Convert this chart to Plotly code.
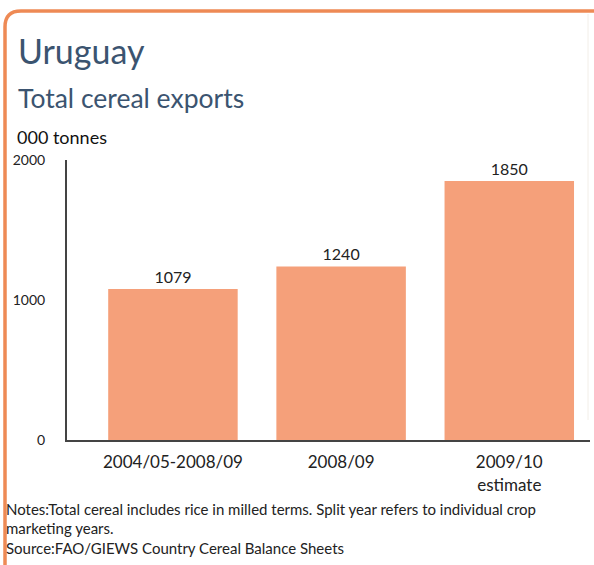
import plotly.graph_objects as go

categories = ["2004/05-2008/09", "2008/09", "2009/10<br>estimate"]
exports = [1079, 1240, 1850]
y_ticks = [0, 1000, 2000]

W, H = 594, 565
L, R, T, B = 67, 4, 160, 125
pw, ph = W - L - R, H - T - B


def px(x):
    return (x - L) / pw


def py(y):
    return (H - B - y) / ph


font = "Lato, 'Noto Sans', sans-serif"

fig = go.Figure(
    data=[
        go.Bar(
            x=[0, 1, 2],
            y=exports,
            width=0.77,
            marker_color="#F5A07A",
            marker_line_width=0,
            text=[str(v) for v in exports],
            textposition="outside",
            textfont=dict(size=16, color="#222222", family=font),
            cliponaxis=False,
        )
    ]
)

# orange frame with rounded top-left corner
r = 16
x0, y0 = 5, 11
path = (
    f"M {px(x0)} {py(H + 5)} L {px(x0)} {py(y0 + r)} "
    f"Q {px(x0)} {py(y0)} {px(x0 + r)} {py(y0)} L {px(W + 5)} {py(y0)}"
)
fig.add_shape(type="path", path=path, xref="paper", yref="paper",
              line=dict(color="#EE8A55", width=3.5))
fig.add_shape(type="line", xref="paper", yref="paper",
              x0=px(588), x1=px(588), y0=py(14), y1=py(420),
              line=dict(color="#F2EEE8", width=1))

annotations = [
    dict(text="Uruguay", x=px(16), y=py(50), size=34, color="#3B5470"),
    dict(text="Total cereal exports", x=px(16), y=py(98), size=26.5, color="#3B5470"),
    dict(text="000 tonnes", x=px(15), y=py(137), size=18, color="#111111"),
    dict(text="Notes:Total cereal includes rice in milled terms. Split year refers to individual crop",
         x=px(4), y=py(509), size=15, color="#222222"),
    dict(text="marketing years.", x=px(4), y=py(528), size=15, color="#222222"),
    dict(text="Source:FAO/GIEWS Country Cereal Balance Sheets", x=px(4), y=py(548), size=15, color="#222222"),
]
for a in annotations:
    fig.add_annotation(
        text=a["text"], x=a["x"], y=a["y"], xref="paper", yref="paper",
        xanchor="left", yanchor="middle", showarrow=False,
        font=dict(size=a["size"], color=a["color"], family=font),
    )

fig.update_layout(
    width=W,
    height=H,
    margin=dict(l=L, r=R, t=T, b=B),
    paper_bgcolor="white",
    plot_bgcolor="white",
    showlegend=False,
    font=dict(family=font, color="#222222"),
    xaxis=dict(
        range=[-0.63, 2.48],
        tickvals=[0, 1, 2],
        ticktext=categories,
        tickfont=dict(size=17),
        showgrid=False,
        showline=True,
        linecolor="#444444",
        linewidth=2,
        ticks="outside",
        ticklen=6,
        tickcolor="rgba(0,0,0,0)",
        zeroline=False,
    ),
    yaxis=dict(
        range=[0, 2000],
        tickvals=y_ticks,
        tickfont=dict(size=14),
        showgrid=False,
        showline=True,
        linecolor="#444444",
        linewidth=2,
        ticks="outside",
        ticklen=17,
        tickcolor="rgba(0,0,0,0)",
        zeroline=False,
    ),
)

fig.write_html("out.html", config={"displayModeBar": False},
               post_script="document.body.style.margin='0';")
